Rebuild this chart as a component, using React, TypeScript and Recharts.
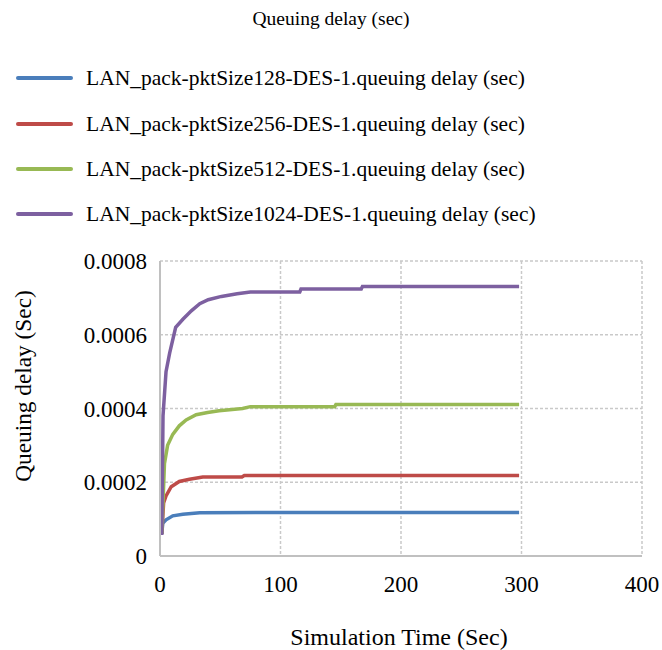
import React from 'react';
import { LineChart, Line, XAxis, YAxis, CartesianGrid } from 'recharts';

const chartTitle = 'Queuing delay (sec)';
const xAxisTitle = 'Simulation Time (Sec)';
const yAxisTitle = 'Queuing delay (Sec)';
const xTicks = [0, 100, 200, 300, 400];
const yTicks = [0, 0.0002, 0.0004, 0.0006, 0.0008];

const seriesNames = [
  'LAN_pack-pktSize128-DES-1.queuing delay (sec)',
  'LAN_pack-pktSize256-DES-1.queuing delay (sec)',
  'LAN_pack-pktSize512-DES-1.queuing delay (sec)',
  'LAN_pack-pktSize1024-DES-1.queuing delay (sec)',
];
const seriesColors = ['#4a7ebb', '#be4b48', '#98b954', '#7d60a0'];

const pkt128 = [
  { t: 1.5, v: 0.00006 }, { t: 2.3, v: 0.000089 }, { t: 5, v: 0.000098 },
  { t: 10.6, v: 0.000109 }, { t: 19, v: 0.000113 }, { t: 33, v: 0.000117 },
  { t: 80, v: 0.000118 }, { t: 298, v: 0.000118 },
];
const pkt256 = [
  { t: 1.5, v: 0.00006 }, { t: 3, v: 0.000144 }, { t: 5, v: 0.000163 },
  { t: 9.3, v: 0.000188 }, { t: 16, v: 0.000202 }, { t: 24.5, v: 0.000208 },
  { t: 35.5, v: 0.000214 }, { t: 68, v: 0.000214 }, { t: 70, v: 0.000218 },
  { t: 298, v: 0.000218 },
];
const pkt512 = [
  { t: 1.5, v: 0.00006 }, { t: 3.7, v: 0.00025 }, { t: 6.3, v: 0.0003 },
  { t: 10.6, v: 0.00033 }, { t: 16, v: 0.000353 }, { t: 21.7, v: 0.000369 },
  { t: 30, v: 0.000383 }, { t: 39.5, v: 0.000389 }, { t: 49, v: 0.000394 },
  { t: 68.5, v: 0.0004 }, { t: 75, v: 0.000405 }, { t: 145, v: 0.000405 },
  { t: 146, v: 0.000411 }, { t: 298, v: 0.000411 },
];
const pkt1024 = [
  { t: 1.5, v: 0.000057 }, { t: 2.5, v: 0.00038 }, { t: 5, v: 0.0005 },
  { t: 8, v: 0.00055 }, { t: 13, v: 0.00062 }, { t: 19, v: 0.000642 },
  { t: 26, v: 0.000665 }, { t: 33, v: 0.000684 }, { t: 40, v: 0.000695 },
  { t: 51, v: 0.000704 }, { t: 64, v: 0.000711 }, { t: 75, v: 0.000716 },
  { t: 116, v: 0.000716 }, { t: 117, v: 0.000724 }, { t: 167, v: 0.000724 },
  { t: 168, v: 0.000731 }, { t: 298, v: 0.000731 },
];
const seriesData = [pkt128, pkt256, pkt512, pkt1024];

const FONT = '"Liberation Serif", "Times New Roman", Times, serif';
const legendRowsY = [78, 124, 169, 214];

const XTitle = () => (
  <text x={399} y={637} textAnchor="middle" dominantBaseline="central"
    style={{ fontFamily: FONT, fontSize: 24 }} fill="#000">{xAxisTitle}</text>
);

const YTitle = () => {
  const cx = 23;
  const cy = 386;
  return (
    <text x={cx} y={cy} textAnchor="middle" dominantBaseline="central"
      transform={`rotate(-90, ${cx}, ${cy})`} style={{ fontFamily: FONT, fontSize: 23.3 }} fill="#000">{yAxisTitle}</text>
  );
};

const tickStyle = { fontFamily: FONT, fontSize: 23, fill: '#000' };

export default function App() {
  return (
    <div style={{ position: 'absolute', left: 0, top: 0, width: 662, height: 650, background: '#fff', fontFamily: FONT }}>
      <div style={{ position: 'absolute', left: 0, width: 662, top: 8, textAlign: 'center', fontSize: 19.5, lineHeight: '22px', color: '#000' }}>
        {chartTitle}
      </div>
      {seriesNames.map((name, i) => (
        <div key={name} style={{ position: 'absolute', left: 0, top: legendRowsY[i] - 13, height: 26, width: 662 }}>
          <div style={{ position: 'absolute', left: 16, top: 11, width: 57, height: 4, background: seriesColors[i], borderRadius: 2 }} />
          <div style={{ position: 'absolute', left: 86, top: 0, fontSize: 21.5, lineHeight: '26px', color: '#000', whiteSpace: 'nowrap' }}>{name}</div>
        </div>
      ))}
      <div style={{ position: 'absolute', left: 0, top: 0 }}>
        <LineChart width={662} height={650} margin={{ top: 261, right: 20, bottom: 34, left: 100 }} style={{ fontFamily: FONT }}>
          <CartesianGrid stroke="#c9c9c9" strokeDasharray="3 2" strokeWidth={1.5} />
          <XAxis dataKey="t" type="number" domain={[0, 400]} ticks={xTicks} height={60}
            axisLine={{ stroke: '#c0c0c0', strokeWidth: 2 }} tickLine={false} tickSize={0} tickMargin={20}
            tick={tickStyle} allowDuplicatedCategory={false}
            label={<XTitle />} />
          <YAxis type="number" domain={[0, 0.0008]} ticks={yTicks} width={60}
            axisLine={{ stroke: '#c0c0c0', strokeWidth: 2 }} tickLine={false} tickSize={0} tickMargin={13}
            tick={tickStyle}
            label={<YTitle />} />
          {seriesData.map((d, i) => (
            <Line key={seriesNames[i]} data={d} dataKey="v" name={seriesNames[i]} type="linear"
              stroke={seriesColors[i]} strokeWidth={3.5} dot={false} isAnimationActive={false} />
          ))}
        </LineChart>
      </div>
    </div>
  );
}
